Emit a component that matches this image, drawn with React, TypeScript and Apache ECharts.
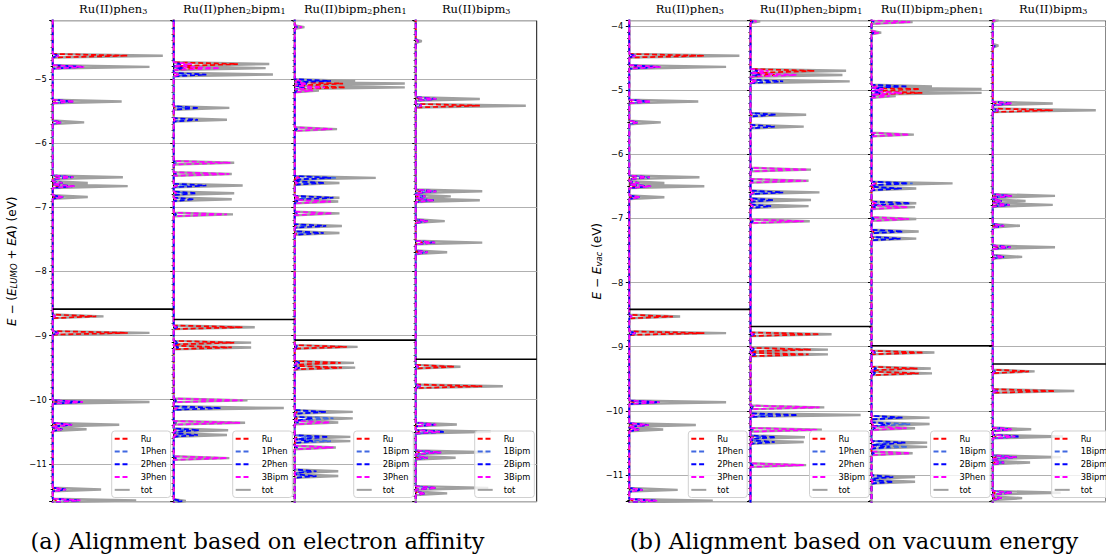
import React, { useEffect, useRef } from "react";
import * as echarts from "echarts";

// ---------- DATA ----------
// Peak list per complex: [energy (eV, EA-aligned), tot, Ru, ligand1, ligand2, ligand3]
const peaksPhen3 = [
  [-4.636, 0.91, 0.62, 0.05, 0.05, 0.05],
  [-4.81, 0.8, 0.06, 0.24, 0.25, 0.26],
  [-5.35, 0.57, 0.03, 0.17, 0.17, 0.18],
  [-5.675, 0.26, 0.02, 0.07, 0.07, 0.07],
  [-6.53, 0.58, 0.04, 0.16, 0.17, 0.17],
  [-6.62, 0.29, 0.03, 0.08, 0.08, 0.08],
  [-6.67, 0.62, 0.05, 0.18, 0.17, 0.18],
  [-6.84, 0.29, 0.02, 0.09, 0.08, 0.09],
  [-8.7, 0.42, 0.36, 0.02, 0.02, 0.02],
  [-8.958, 0.8, 0.62, 0.05, 0.05, 0.05],
  [-10.035, 0.8, 0.05, 0.24, 0.25, 0.25],
  [-10.39, 0.55, 0.03, 0.15, 0.16, 0.16],
  [-10.46, 0.28, 0.02, 0.08, 0.08, 0.08],
  [-11.4, 0.4, 0.02, 0.11, 0.11, 0.11],
  [-11.57, 0.69, 0.03, 0.22, 0.22, 0.23],
];
const peaksPhen2Bipm1 = [
  [-3.995, 0.08, 0.01, 0.02, 0.02, 0.05],
  [-4.766, 0.79, 0.53, 0.05, 0.06, 0.15],
  [-4.83, 0.76, 0.2, 0.08, 0.08, 0.38],
  [-4.93, 0.82, 0.05, 0.1, 0.27, 0.05],
  [-5.45, 0.46, 0.01, 0.1, 0.21, 0.01],
  [-5.635, 0.44, 0.01, 0.08, 0.2, 0.01],
  [-6.305, 0.5, 0.01, 0.02, 0.02, 0.47],
  [-6.48, 0.48, 0.01, 0.02, 0.02, 0.46],
  [-6.66, 0.57, 0.03, 0.12, 0.27, 0.03],
  [-6.78, 0.5, 0.02, 0.1, 0.19, 0.02],
  [-6.875, 0.48, 0.02, 0.08, 0.17, 0.02],
  [-7.11, 0.49, 0.01, 0.02, 0.02, 0.44],
  [-8.87, 0.67, 0.57, 0.03, 0.03, 0.02],
  [-9.11, 0.64, 0.5, 0.04, 0.04, 0.02],
  [-9.185, 0.64, 0.48, 0.04, 0.04, 0.02],
  [-10.01, 0.61, 0.02, 0.03, 0.03, 0.57],
  [-10.13, 0.91, 0.03, 0.15, 0.39, 0.03],
  [-10.36, 0.59, 0.02, 0.02, 0.02, 0.55],
  [-10.475, 0.45, 0.03, 0.1, 0.21, 0.02],
  [-10.55, 0.44, 0.03, 0.1, 0.2, 0.02],
  [-10.91, 0.46, 0.01, 0.02, 0.02, 0.44],
  [-11.58, 0.1, 0.01, 0.03, 0.07, 0.01],
];
const peaksBipm2Phen1 = [
  [-4.025, 0.34, 0.01, 0.02, 0.02, 0.32],
  [-4.19, 0.08, 0.01, 0.02, 0.02, 0.06],
  [-5.03, 0.5, 0.05, 0.2, 0.3, 0.05],
  [-5.07, 0.91, 0.4, 0.1, 0.1, 0.1],
  [-5.13, 0.91, 0.42, 0.08, 0.08, 0.25],
  [-5.18, 0.2, 0.02, 0.03, 0.03, 0.15],
  [-5.78, 0.35, 0.01, 0.02, 0.02, 0.31],
  [-6.54, 0.67, 0.04, 0.34, 0.3, 0.03],
  [-6.62, 0.37, 0.03, 0.15, 0.25, 0.02],
  [-6.85, 0.37, 0.03, 0.1, 0.32, 0.04],
  [-6.91, 0.36, 0.01, 0.03, 0.03, 0.3],
  [-7.095, 0.37, 0.01, 0.02, 0.02, 0.31],
  [-7.29, 0.39, 0.02, 0.1, 0.26, 0.01],
  [-7.4, 0.37, 0.02, 0.1, 0.24, 0.01],
  [-9.176, 0.52, 0.43, 0.03, 0.03, 0.02],
  [-9.425, 0.49, 0.38, 0.04, 0.04, 0.02],
  [-9.5, 0.5, 0.39, 0.04, 0.04, 0.02],
  [-10.19, 0.48, 0.02, 0.2, 0.26, 0.01],
  [-10.29, 0.48, 0.02, 0.32, 0.15, 0.01],
  [-10.355, 0.36, 0.01, 0.03, 0.03, 0.29],
  [-10.58, 0.46, 0.02, 0.15, 0.28, 0.01],
  [-10.645, 0.46, 0.02, 0.3, 0.15, 0.01],
  [-10.745, 0.34, 0.01, 0.02, 0.02, 0.32],
  [-11.115, 0.36, 0.01, 0.1, 0.18, 0.01],
  [-11.19, 0.36, 0.01, 0.1, 0.18, 0.01],
];
const peaksBipm3 = [
  [-4.01, 0.05, 0.01, 0.01, 0.01, 0.02],
  [-4.41, 0.05, 0.01, 0.02, 0.02, 0.02],
  [-5.31, 0.53, 0.03, 0.16, 0.17, 0.17],
  [-5.415, 0.91, 0.53, 0.05, 0.05, 0.05],
  [-6.75, 0.55, 0.04, 0.16, 0.17, 0.17],
  [-6.83, 0.29, 0.02, 0.08, 0.08, 0.08],
  [-6.89, 0.53, 0.04, 0.15, 0.15, 0.15],
  [-7.215, 0.24, 0.02, 0.09, 0.1, 0.1],
  [-7.55, 0.55, 0.06, 0.15, 0.16, 0.16],
  [-7.7, 0.26, 0.02, 0.09, 0.1, 0.1],
  [-9.485, 0.37, 0.32, 0.02, 0.02, 0.02],
  [-9.79, 0.72, 0.55, 0.04, 0.04, 0.04],
  [-10.387, 0.34, 0.02, 0.15, 0.16, 0.17],
  [-10.5, 0.62, 0.03, 0.22, 0.24, 0.2],
  [-10.82, 0.6, 0.03, 0.2, 0.21, 0.21],
  [-10.905, 0.33, 0.02, 0.1, 0.1, 0.1],
  [-11.375, 0.6, 0.02, 0.16, 0.17, 0.17],
  [-11.46, 0.26, 0.02, 0.08, 0.08, 0.08],
];
const complexPeaks = [peaksPhen3, peaksPhen2Bipm1, peaksBipm2Phen1, peaksBipm3];
const homoLevels = [-8.588, -8.75, -9.07, -9.37];
const vacuumShift = [0.17, 0.065, 0.085, 0.1];
const yRangeEA = [-11.59, -4.09];
const yRangeVac = [-11.415, -3.92];
const columnTitles = [
  [["Ru(II)phen", "3"]],
  [["Ru(II)phen", "2"], ["bipm", "1"]],
  [["Ru(II)bipm", "2"], ["phen", "1"]],
  [["Ru(II)bipm", "3"]],
];
const seriesNames = [
  ["Ru", "1Phen", "2Phen", "3Phen", "tot"],
  ["Ru", "1Phen", "2Phen", "3Bipm", "tot"],
  ["Ru", "1Bipm", "2Bipm", "3Phen", "tot"],
  ["Ru", "1Bipm", "2Bipm", "3Bipm", "tot"],
];
const captions = ["(a) Alignment based on electron affinity", "(b) Alignment based on vacuum energy"];

// ---------- STYLE ----------
const compColors = ["#ff0000", "#4169e1", "#0000ff", "#ff00ff"];
const TOT_COLOR = "#a0a0a0";
const HALF = 0.028;
const TOP = 20.7;
const HEIGHT = 481;
const COLW = 121;
const panels = [
  { lefts: [52.7, 173.7, 294.7, 415.7], range: yRangeEA, shift: [0, 0, 0, 0] },
  { lefts: [629.3, 750.5, 871.5, 992.7], range: yRangeVac, shift: vacuumShift },
];

function spikeLine(peaks: number[][], k: number, shift: number, lo: number, hi: number) {
  const s = peaks.map((p) => [p[0] + shift, p[k]]).sort((a, b) => a[0] - b[0]);
  const pts: number[][] = [[0, lo - 0.2]];
  for (let i = 0; i < s.length; i++) {
    const [e, h] = s[i];
    const prev = i > 0 ? s[i - 1][0] : -Infinity;
    const next = i < s.length - 1 ? s[i + 1][0] : Infinity;
    const a = Math.max(e - HALF, (e + prev) / 2);
    const b = Math.min(e + HALF, (e + next) / 2);
    pts.push([0, a], [h, e], [0, b]);
  }
  pts.push([0, hi + 0.2]);
  return pts;
}

function buildOption() {
  const grid: any[] = [];
  const xAxis: any[] = [];
  const yAxis: any[] = [];
  const series: any[] = [];
  const legend: any[] = [];
  const graphic: any[] = [];
  const tickFont = { fontFamily: "DejaVu Sans", fontSize: 8.3, color: "#000" };

  panels.forEach((panel) => {
    panel.lefts.forEach((left, ci) => {
      const gi = grid.length;
      const [lo, hi] = panel.range;
      grid.push({
        left, top: TOP, width: COLW, height: HEIGHT, show: true,
        borderColor: "#111", borderWidth: 1, backgroundColor: "transparent",
      });
      xAxis.push({ gridIndex: gi, type: "value", min: 0, max: 1, show: false });
      yAxis.push({
        gridIndex: gi, type: "value", min: lo, max: hi, splitNumber: 7,
        axisLine: { show: true, lineStyle: { color: "#000", width: 1 } },
        axisTick: { show: true, length: 3.5, lineStyle: { color: "#000" } },
        minorTick: { show: true, splitNumber: 10, length: 2, lineStyle: { color: "#000" } },
        axisLabel: {
          show: ci === 0, margin: 6, showMinLabel: false, showMaxLabel: false, ...tickFont,
          formatter: (v: number) => (Math.abs(v - Math.round(v)) < 1e-6 ? "\u2212" + Math.abs(Math.round(v)) : ""),
        },
        splitLine: { show: true, lineStyle: { color: "#b0b0b0", width: 1 } },
      });
      const peaks = complexPeaks[ci];
      const sh = panel.shift[ci];
      const names = seriesNames[ci];
      series.push({
        name: "tot", type: "line", xAxisIndex: gi, yAxisIndex: gi, symbol: "none", z: 2,
        data: spikeLine(peaks, 1, sh, lo, hi),
        lineStyle: { color: TOT_COLOR, width: 2.4 }, itemStyle: { color: TOT_COLOR },
      });
      for (let k = 0; k < 4; k++) {
        series.push({
          name: names[k], type: "line", xAxisIndex: gi, yAxisIndex: gi, symbol: "none", z: 3,
          data: spikeLine(peaks, k + 2, sh, lo, hi),
          lineStyle: { color: compColors[k], width: 1.7, type: [5, 2.8] },
          itemStyle: { color: compColors[k] },
        });
      }
      const homo = homoLevels[ci] + sh;
      series.push({
        name: "HOMO", type: "line", xAxisIndex: gi, yAxisIndex: gi, symbol: "none", z: 4,
        data: [[0, homo], [1, homo]], lineStyle: { color: "#000", width: 1.6 },
      });
      legend.push({
        data: names, orient: "vertical", left: left + 59, top: 431, z: 10,
        selectedMode: false, itemWidth: 15, itemHeight: 9, itemGap: 3.5,
        padding: [3, 4, 3, 2], backgroundColor: "rgba(255,255,255,0.8)",
        borderColor: "#d0d0d0", borderWidth: 1, borderRadius: 3,
        itemStyle: { opacity: 0 },
        textStyle: { ...tickFont, lineHeight: 9.3, padding: [0, 0, 0, 6] },
      });
      const parts = columnTitles[ci];
      graphic.push({
        type: "text", x: left + COLW / 2, y: 3,
        style: {
          text: parts.map(([t, s]) => `{a|${t}}{b|${s}}`).join(""),
          align: "center", verticalAlign: "top",
          rich: {
            a: { fontFamily: "DejaVu Serif", fontSize: 11.5, lineHeight: 14, verticalAlign: "top", fill: "#000" },
            b: { fontFamily: "DejaVu Serif", fontSize: 8, lineHeight: 14, padding: [4, 0, 0, 0], verticalAlign: "top", fill: "#000" },
          },
        },
      });
    });
  });

  const ylabRich = {
    i: { fontFamily: "DejaVu Sans", fontStyle: "italic", fontSize: 12, lineHeight: 15, verticalAlign: "top", fill: "#000" },
    n: { fontFamily: "DejaVu Sans", fontSize: 12, lineHeight: 15, verticalAlign: "top", fill: "#000" },
    s: { fontFamily: "DejaVu Sans", fontStyle: "italic", fontSize: 8.5, lineHeight: 15, padding: [4, 0, 0, 0], verticalAlign: "top", fill: "#000" },
  };
  graphic.push({
    type: "text", x: 13, y: TOP + HEIGHT / 2, rotation: Math.PI / 2,
    style: {
      text: "{i|E}{n| \u2212 (}{i|E}{s|LUMO}{n| + }{i|EA}{n|) (eV)}",
      align: "center", verticalAlign: "middle", rich: ylabRich,
    },
  });
  graphic.push({
    type: "text", x: 598, y: TOP + HEIGHT / 2, rotation: Math.PI / 2,
    style: {
      text: "{i|E}{n| \u2212 }{i|E}{s|vac}{n| (eV)}",
      align: "center", verticalAlign: "middle", rich: ylabRich,
    },
  });
  graphic.push({
    type: "text", x: 257.5, y: 541,
    style: { text: captions[0], fontFamily: "DejaVu Serif", fontSize: 22.5, fill: "#000", align: "center", verticalAlign: "middle" },
  });
  graphic.push({
    type: "text", x: 854, y: 541,
    style: { text: captions[1], fontFamily: "DejaVu Serif", fontSize: 22.5, fill: "#000", align: "center", verticalAlign: "middle" },
  });

  return { animation: false, backgroundColor: "#fff", grid, xAxis, yAxis, series, legend, graphic };
}

export default function App() {
  const ref = useRef<HTMLDivElement>(null);
  useEffect(() => {
    if (!ref.current) return;
    const chart = echarts.init(ref.current, undefined, { renderer: "svg" });
    chart.setOption(buildOption() as any);
    return () => chart.dispose();
  }, []);
  return <div ref={ref} style={{ position: "absolute", left: 0, top: 0, width: 1106, height: 556 }} />;
}
